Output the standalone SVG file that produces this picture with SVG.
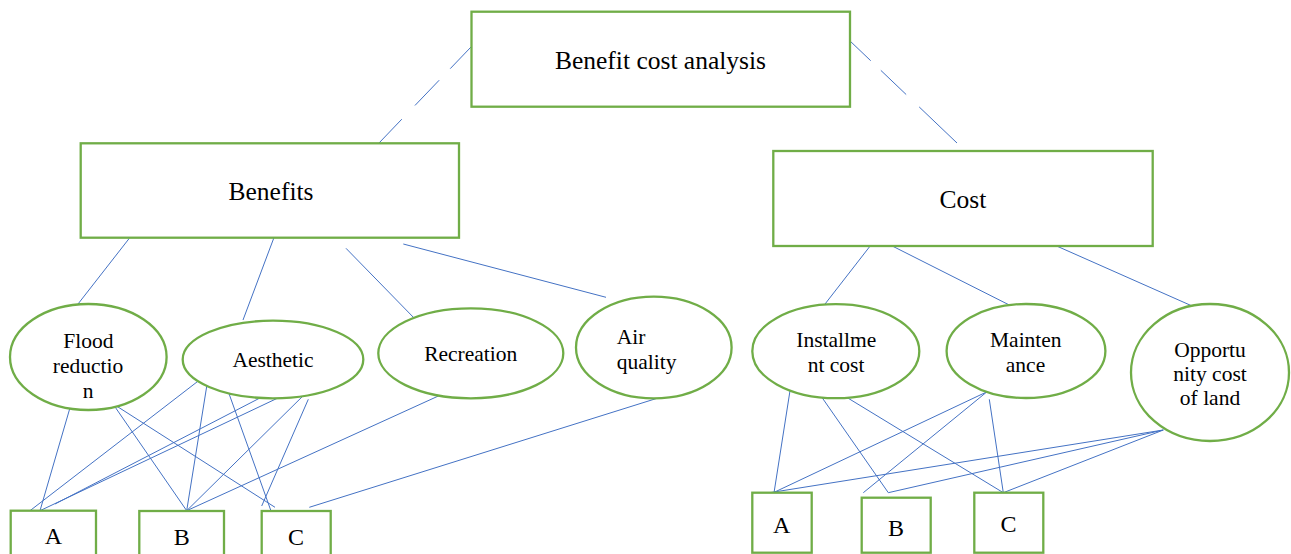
<svg xmlns="http://www.w3.org/2000/svg" width="1291" height="554" viewBox="0 0 1291 554">
<style>
.box{fill:#fff;stroke:#70AD47;stroke-width:2.3}
.ell{fill:#fff;stroke:#70AD47;stroke-width:2.3}
.ln{stroke:#4472C4;stroke-width:1;fill:none}
text{fill:#000;text-anchor:middle}
.big{font-size:25.5px}
.mid{font-size:21.5px}
.lbl{font-size:24px}
</style>
<rect width="1291" height="554" fill="#fff"/>
<g id="connectors">
<line class="ln" x1="471" y1="47" x2="379" y2="143" stroke-dasharray="30 16 35 19 40"/>
<line class="ln" x1="849" y1="40" x2="957" y2="143" stroke-dasharray="30 14 35 18 60"/>
<line class="ln" x1="129.3" y1="238.3" x2="78" y2="304"/>
<line class="ln" x1="274" y1="237.5" x2="243" y2="320"/>
<line class="ln" x1="346" y1="248.3" x2="416" y2="320"/>
<line class="ln" x1="403.3" y1="244" x2="606" y2="297.3"/>
<line class="ln" x1="871.7" y1="244" x2="821.7" y2="308.3"/>
<line class="ln" x1="888.3" y1="244" x2="1055.5" y2="328.3"/>
<line class="ln" x1="1048.3" y1="242.3" x2="1197.3" y2="308.3"/>
<line class="ln" x1="77.3" y1="382.7" x2="40" y2="510.7"/>
<line class="ln" x1="80" y1="382.7" x2="275" y2="507.3"/>
<line class="ln" x1="98.3" y1="382.7" x2="186.7" y2="510.7"/>
<line class="ln" x1="206" y1="375" x2="30" y2="510.7"/>
<line class="ln" x1="207.3" y1="382.7" x2="186.7" y2="510.7"/>
<line class="ln" x1="222.7" y1="376" x2="274" y2="519.3"/>
<line class="ln" x1="274" y1="390.7" x2="55" y2="504"/>
<line class="ln" x1="293.3" y1="390.7" x2="40" y2="510.7"/>
<line class="ln" x1="308.3" y1="390.7" x2="186.7" y2="510.7"/>
<line class="ln" x1="308.3" y1="399.3" x2="261.7" y2="506"/>
<line class="ln" x1="450" y1="390.7" x2="186.7" y2="510.7"/>
<line class="ln" x1="658" y1="398" x2="309.3" y2="507.3"/>
<line class="ln" x1="790" y1="390.7" x2="773.3" y2="497.3"/>
<line class="ln" x1="811.7" y1="382.7" x2="888.3" y2="492.7"/>
<line class="ln" x1="811.7" y1="376" x2="1003.3" y2="492.7"/>
<line class="ln" x1="989.3" y1="390.7" x2="773.3" y2="492.7"/>
<line class="ln" x1="988.3" y1="390.7" x2="863.3" y2="492.7"/>
<line class="ln" x1="989.3" y1="399.3" x2="1003.3" y2="492.7"/>
<line class="ln" x1="1163.3" y1="430" x2="766" y2="493.3"/>
<line class="ln" x1="1163.3" y1="430" x2="888.3" y2="492.7"/>
<line class="ln" x1="1163.3" y1="430" x2="1003.3" y2="492.7"/>
</g>
<g font-family="Liberation Serif, Tinos, Times New Roman, DejaVu Serif, serif">
<g id="root">
<rect class="box" x="471.5" y="11.7" width="378.5" height="95"/>
<text class="big" x="660.5" y="68.5">Benefit cost analysis</text>
</g>
<g id="benefits">
<rect class="box" x="80.7" y="143.3" width="378.3" height="94.4"/>
<text class="big" x="271" y="200">Benefits</text>
</g>
<g id="cost">
<rect class="box" x="773.3" y="151" width="379.4" height="95"/>
<text class="big" x="963" y="208">Cost</text>
</g>
<g id="flood">
<ellipse class="ell" cx="88.3" cy="357" rx="78.3" ry="53"/>
<text class="mid" x="88.3" y="348">Flood</text>
<text class="mid" x="88" y="373">reductio</text>
<text class="mid" x="88" y="398">n</text>
</g>
<g id="aesthetic">
<ellipse class="ell" cx="273" cy="359.5" rx="90.3" ry="38.8"/>
<text class="mid" x="273" y="367">Aesthetic</text>
</g>
<g id="recreation">
<ellipse class="ell" cx="470.8" cy="353.3" rx="92.5" ry="45"/>
<text class="mid" x="470.7" y="361">Recreation</text>
</g>
<g id="air">
<ellipse class="ell" cx="653.8" cy="347.5" rx="77.8" ry="50.8"/>
<text class="mid" x="616.7" y="344" style="text-anchor:start">Air</text>
<text class="mid" x="616.7" y="368.5" style="text-anchor:start">quality</text>
</g>
<g id="installment">
<ellipse class="ell" cx="835.8" cy="351.2" rx="83.5" ry="47"/>
<text class="mid" x="836.3" y="347">Installme</text>
<text class="mid" x="836" y="372">nt cost</text>
</g>
<g id="maintenance">
<ellipse class="ell" cx="1026" cy="351" rx="79.4" ry="47"/>
<text class="mid" x="1025.8" y="347">Mainten</text>
<text class="mid" x="1025.5" y="372">ance</text>
</g>
<g id="opportunity">
<ellipse class="ell" cx="1210" cy="372.5" rx="79" ry="68.5"/>
<text class="mid" x="1210" y="357">Opportu</text>
<text class="mid" x="1210" y="381">nity cost</text>
<text class="mid" x="1210" y="405">of land</text>
</g>
<g id="benefitA">
<rect class="box" x="10.7" y="510.7" width="85.3" height="60"/>
<text class="lbl" x="53.3" y="544">A</text>
</g>
<g id="benefitB">
<rect class="box" x="139.3" y="511" width="84.7" height="60"/>
<text class="lbl" x="181.7" y="545">B</text>
</g>
<g id="benefitC">
<rect class="box" x="261.7" y="511" width="69" height="60"/>
<text class="lbl" x="296" y="545">C</text>
</g>
<g id="costA">
<rect class="box" x="752.3" y="492.7" width="59.4" height="60"/>
<text class="lbl" x="781.7" y="533.3">A</text>
</g>
<g id="costB">
<rect class="box" x="861.7" y="497.7" width="69" height="55"/>
<text class="lbl" x="896" y="535.7">B</text>
</g>
<g id="costC">
<rect class="box" x="974.3" y="492.7" width="69" height="60"/>
<text class="lbl" x="1008.5" y="532">C</text>
</g>
</g>
</svg>
